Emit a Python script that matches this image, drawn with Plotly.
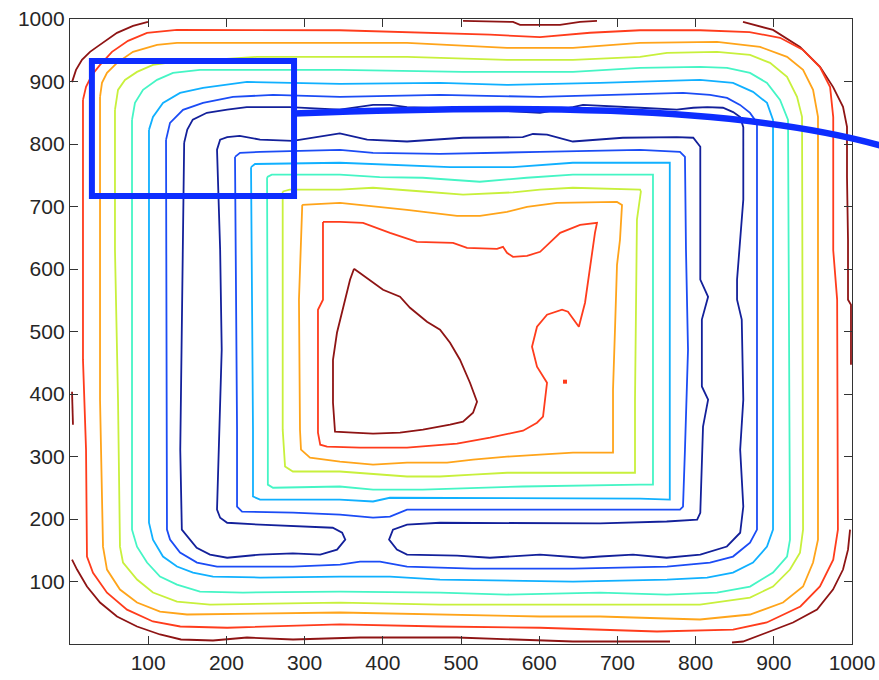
import plotly.graph_objects as go

# Contour level colours (jet-style, low -> high)
LEVEL_COLORS = ["#13209a", "#1b4cf5", "#10b0ff", "#45f5c5",
                "#c8f03c", "#ffa41a", "#ff3c1c", "#8e1414"]

TICKS = [100, 200, 300, 400, 500, 600, 700, 800, 900, 1000]

# ---- level 8 (highest): pieces along the border and the central peak ----
dr_tl_x = [2.6, 7.7, 15.3, 25.6, 34.5, 47.3, 60.1, 80.6, 99.7]
dr_tl_y = [899, 918.6, 934.6, 947.4, 955.4, 966.6, 977.8, 989, 995.4]

dr_top_x = [502.6, 566.5, 575.5, 626.6, 652.2, 673.9]
dr_top_y = [997, 995.4, 990.6, 990.6, 995.4, 997]

dr_tr_x = [860.6, 899, 933.5, 959.1, 975.7, 988.5, 993.6, 993.6, 994.9, 994.9, 998.7, 998.7]
dr_tr_y = [995.4, 982.6, 955.4, 923.4, 891.4, 859.4, 827.4, 747.4, 646.7, 550.8, 542.8, 446.8]

dr_left_x = [2.6, 3.8]
dr_left_y = [403.7, 350.9]

dr_bottom_x = [2.6, 9, 21.7, 38.4, 60.1, 85.7, 115.1, 141.9, 182.9, 226.3, 285.2,
               370.9, 494.9, 566.5, 643.2, 767.3]
dr_bottom_y = [135.1, 119.1, 91.9, 66.3, 44, 28, 15.2, 7.2, 5.6, 10.4, 7.2,
               10.4, 10.4, 7.2, 4, 4]

dr_br_x = [846.6, 860.6, 891.3, 924.6, 955.3, 975.7, 988.5, 994.9, 997.5]
dr_br_y = [2.4, 4, 18.4, 34.4, 55.1, 87.1, 119.1, 151, 183]

dr_core_x = [363.2, 387.5, 400.3, 422, 434.8, 456.5, 473.2, 486, 498.7, 511.5, 520.5,
             515.4, 502.6, 486, 451.4, 422, 387.5, 361.9, 338.9, 336.3, 336.3, 341.4,
             347.8, 354.2, 358.1, 363.2]
dr_core_y = [600.3, 578, 566.8, 555.6, 538, 515.6, 502.8, 482, 454.8, 418, 387.7,
             370.1, 355.7, 350.9, 342.9, 338.1, 336.5, 338.1, 339.7, 386.1, 454.8, 498,
             530, 562, 582.8, 600.3]

# ---- level 7 ----
red_outer_x = [16.6, 20.5, 28.1, 38.4, 53.7, 74.2, 98.5, 136.8, 345, 473, 537, 601, 665,
               729, 806, 869, 908, 937, 959, 972, 976, 976, 981, 982, 976, 959, 934, 891,
               848, 750.6, 678, 601, 473, 345, 201, 141, 106, 72.9, 47.3, 29.4, 21.7,
               20.5, 16.6, 16.6]
red_outer_y = [870.6, 891.4, 910.6, 926.6, 947.4, 965, 977.8, 982.6, 982, 978, 975, 971,
               978, 982, 982, 979, 970, 951, 923, 891, 843, 630, 551, 183, 135, 92, 60,
               34.5, 23, 20, 23, 26, 28, 31.5, 26, 28, 36, 55, 82, 114, 140, 311, 455,
               870.6]

red_inner_x = [323.5, 345.3, 374.7, 409.2, 443.7, 489.8, 507.7, 546, 553.7, 558.8, 566.5,
               584.4, 601.2, 617.8, 626.8, 652.3, 673.9, 671.3, 664.9, 658.6, 650.7,
               636.8, 629.2, 610, 597.2, 590.8, 597.2, 610, 604.9, 597.2, 579.3, 537.1,
               494.9, 431, 370.9, 328.7, 320, 317.1, 317.1, 323.5, 323.5]
red_inner_y = [675.4, 675.4, 673.8, 657.8, 643.5, 641.9, 633.9, 632.3, 635.5, 625.9, 619.5,
               621.1, 627.5, 646.7, 657.8, 670.6, 673.8, 657.8, 598.7, 546, 507.6,
               531.6, 534.8, 526.8, 507.6, 475.6, 443.6, 418, 363.7, 354.1, 341.3, 330.1,
               320.5, 314.1, 314.1, 315.7, 318.9, 338.1, 534.8, 550.8, 675.4]

red_spot_x = [633]
red_spot_y = [419.7]

# ---- level 6 ----
orange_outer_x = [38.4, 40.9, 47.3, 60.1, 80.6, 111.3, 136.8, 345.3, 431, 558.8, 643.2,
                  728.9, 827.4, 882.4, 916.9, 937.4, 950.2, 956.5, 956.5, 950.2, 937.4,
                  911.8, 869.6, 805.6, 677.8, 601, 473.2, 345.3, 149.6, 115.1, 85.7, 63.9,
                  47.3, 42.2, 38.4, 38.4]
orange_outer_y = [875.4, 897.8, 913.8, 929.8, 947.4, 958.6, 961.8, 961.8, 961.8, 953.8,
                  953.8, 961.8, 963.4, 955.4, 939.4, 918.6, 886.6, 843.4, 167, 130.3, 91.9,
                  66.3, 47.2, 39.2, 44, 44, 47.2, 50.4, 47.2, 51.9, 66.3, 87.1, 119.1,
                  155.8, 390.9, 875.4]

orange_inner_x = [297, 345.3, 431, 464.2, 494.9, 524.3, 558.8, 584.4, 622.8, 699.5, 705.9,
                  703.3, 699.5, 696.9, 694.4, 694.4, 643.2, 601, 558.8, 515.4, 482.2, 431,
                  387.5, 345.3, 306.9, 295.4, 294.1, 292.8, 297]
orange_inner_y = [702.6, 705.8, 694.6, 689.8, 685, 685, 691.4, 699.4, 705.8, 707.4, 702.6,
                  646.7, 606.7, 502.8, 406.8, 306.1, 306.1, 302.9, 299.7, 294.9, 290.1,
                  290.1, 286.9, 291.7, 298.1, 310.9, 342.9, 550.8, 702.6]

# ---- level 5 ----
yellow_outer_x = [57.5, 61.4, 70.3, 85.7, 106.1, 124, 239.1, 345.3, 431, 558.8, 643.2,
                  728.9, 763.4, 827.4, 869.6, 895.2, 916.9, 929.7, 936.1, 937.4, 933.5,
                  920.7, 899, 869.6, 805.6, 677.8, 473.2, 345.3, 179, 136.8, 106.1, 85.7,
                  67.8, 63.9, 61.4, 57.5, 57.5]
yellow_outer_y = [854.6, 886.6, 902.6, 915.4, 926.6, 929.8, 939.4, 939.4, 939.4, 934.6,
                  934.6, 939.4, 945.8, 947.4, 942.6, 929.8, 907.4, 875.4, 843.4, 183,
                  146.2, 119.1, 91.9, 74.3, 63.1, 63.1, 63.1, 66.3, 63.1, 67.9, 82.3,
                  103.1, 130.3, 155.8, 390.9, 630.7, 854.6]

yellow_inner_x = [272, 281, 345, 387.5, 451, 502.6, 566.5, 601, 643, 707, 729, 730, 725,
                  722.5, 722.5, 716, 559, 515, 473, 431, 396, 345, 285, 275, 272, 272]
yellow_inner_y = [724, 727, 727, 730, 724, 719, 722.6, 727, 730, 727, 727, 724, 679,
                  391, 274, 274, 274, 271, 268, 268, 271, 276, 276, 284, 343, 724]

# ---- level 4 ----
aqua_outer_x = [79.3, 83.1, 93.4, 111.3, 131.7, 166.2, 345.3, 502.6, 643.2, 728.9, 805.6,
                840.2, 869.6, 891.3, 908, 918.2, 920.7, 916.9, 899, 869.6, 827.4, 763.4,
                677.8, 558.8, 473.2, 345.3, 221.2, 166.2, 136.8, 115.1, 98.5, 85.7, 79.3,
                79.3]
aqua_outer_y = [838.6, 865.8, 886.6, 902.6, 913.8, 918.6, 918.6, 915.4, 915.4, 921.8, 923.4,
                921.8, 913.8, 897.8, 870.6, 838.6, 167, 139.9, 114.3, 91.9, 82.3, 79.1,
                82.3, 79.1, 82.3, 83.9, 82.3, 83.9, 95.1, 107.9, 130.3, 155.8, 183, 838.6]

aqua_inner_x = [252, 258, 345, 396, 451, 524, 584, 643, 729, 745.5, 745.5, 729, 579, 515,
                451, 387.5, 345, 259.6, 253, 253, 252]
aqua_inner_y = [747, 751, 751, 747, 746, 739.6, 746, 751, 751, 751, 255, 255, 252, 250,
                247, 247, 252, 250, 255, 343, 747]

# ---- level 3 ----
cyan_outer_x = [101, 106.1, 118.9, 140.7, 170.1, 226.3, 345.3, 473.2, 558.8, 677.8, 805.6,
                847.8, 873.4, 891.3, 899, 899, 891.3, 873.4, 847.8, 814.6, 763.4, 643.2,
                473.2, 409.2, 345.3, 243, 182.9, 157.3, 136.8, 118.9, 106.1, 101, 101]
cyan_outer_y = [822.6, 843.4, 865.8, 881.8, 889.8, 899.4, 896.2, 897.8, 894.6, 897.8, 902.6,
                897.8, 883.4, 865.8, 838.6, 183, 155.8, 130.3, 114.3, 106.3, 103.1, 99.9,
                103.1, 107.9, 107.9, 106.3, 107.9, 114.3, 123.9, 139.9, 167, 194.2, 822.6]

cyan_inner_x = [231.5, 236.6, 345, 486, 566.5, 643, 729, 767, 767, 729, 409, 387.5, 345,
                243, 234, 234, 231.5]
cyan_inner_y = [763, 768, 770, 763, 763, 770, 770, 770, 231, 232.6, 234, 228, 231, 231,
                236, 343, 763]

# ---- level 2 ----
blue_outer_x = [122.8, 127.9, 144.5, 170.1, 208.4, 259.6, 345.3, 473.2, 601, 783.9, 818.4,
                840.2, 856.8, 869.6, 878.5, 878.5, 869.6, 847.8, 818.4, 763.4, 643.2,
                515.4, 431, 396.4, 370.9, 345.3, 285.2, 188, 162.4, 140.7, 127.9, 124,
                122.8]
blue_outer_y = [806.6, 833.8, 854.6, 865.8, 875.4, 878.6, 875.4, 878.6, 875.4, 881.8, 878.6,
                873.8, 862.6, 849.8, 833.8, 183, 162.2, 139.9, 130.3, 123.9, 120.7, 120.7,
                123.9, 131.9, 131.9, 127.1, 123.9, 123.9, 130.3, 146.2, 167, 183, 806.6]

blue_inner_x = [211, 217.4, 243, 345.3, 387.5, 473.2, 601, 728.9, 780, 786.4, 787.7, 790.3,
                786.4, 783.9, 780, 728.9, 431, 409.2, 387.5, 345.3, 285.2, 220, 213.6,
                213.6, 212.3, 211]
blue_inner_y = [779.4, 785.8, 787.4, 790.6, 785.8, 784.2, 787.4, 790.6, 787.4, 779.4, 630.7,
                470.8, 310.9, 219.8, 215, 215, 215, 203.8, 202.2, 207, 210.2, 211.8, 219.8,
                342.9, 550.8, 779.4]

# ---- level 1 (lowest): one loop round the valley, pinched at the saddle ----
navy_x = [146, 150, 157, 175, 201, 226, 265, 281, 345, 371, 387.5, 409, 431, 524, 601,
          643, 656, 729, 776, 797, 815, 835, 848, 857, 861, 861, 853, 853, 859, 861, 857,
          861, 857, 840, 806, 763, 720, 678, 656, 601, 537, 495, 431, 418, 408, 413, 431,
          473, 559, 643, 678, 763, 802, 806, 809.5, 816, 808, 808, 816, 806, 806, 797,
          776, 707, 643, 610, 592, 579, 502.6, 431, 380, 345, 285, 243, 217, 201, 192,
          188, 192, 194, 190.5, 188, 192, 201, 243, 285, 311, 336, 348, 352, 341.5, 320,
          285, 243, 201, 179, 162, 150, 143, 141, 143, 146]
navy_y = [802, 823, 839, 850, 855, 859, 859, 859, 855, 859, 862.6, 862.6, 859, 855, 850,
          859, 862.6, 858, 855, 858, 859, 858, 851, 843, 827, 711, 583, 551, 519, 391, 311,
          220, 178, 156, 143, 138, 143, 140, 138, 143, 138, 141.5, 143, 151, 167, 183, 191,
          194, 194, 194, 193, 196, 199, 210, 348, 391, 412, 519, 555.5, 583, 795.5, 810,
          811, 810, 804, 815, 816, 811, 810, 804, 807, 817, 805, 807, 813, 811, 807,
          791, 631, 471, 311, 215, 202, 194, 191, 189, 188, 186, 178, 167, 151, 143,
          145, 143, 138, 143, 154, 172, 183, 311, 551, 802]

CONTOURS = [
    (7, dr_tl_x, dr_tl_y), (7, dr_top_x, dr_top_y), (7, dr_tr_x, dr_tr_y),
    (7, dr_left_x, dr_left_y), (7, dr_bottom_x, dr_bottom_y), (7, dr_br_x, dr_br_y),
    (7, dr_core_x, dr_core_y),
    (6, red_outer_x, red_outer_y), (6, red_inner_x, red_inner_y),
    (5, orange_outer_x, orange_outer_y), (5, orange_inner_x, orange_inner_y),
    (4, yellow_outer_x, yellow_outer_y), (4, yellow_inner_x, yellow_inner_y),
    (3, aqua_outer_x, aqua_outer_y), (3, aqua_inner_x, aqua_inner_y),
    (2, cyan_outer_x, cyan_outer_y), (2, cyan_inner_x, cyan_inner_y),
    (1, blue_outer_x, blue_outer_y), (1, blue_inner_x, blue_inner_y),
    (0, navy_x, navy_y),
]

fig = go.Figure()
for level, xs, ys in CONTOURS:
    fig.add_trace(go.Scatter(
        x=xs, y=ys, mode="lines",
        line=dict(color=LEVEL_COLORS[level], width=1.8),
        hoverinfo="skip", showlegend=False,
    ))

fig.add_trace(go.Scatter(
    x=red_spot_x, y=red_spot_y, mode="markers",
    marker=dict(color=LEVEL_COLORS[6], size=4, symbol="square"),
    hoverinfo="skip", showlegend=False,
))

axis_common = dict(
    range=[0, 1000], tickvals=TICKS, ticktext=[str(t) for t in TICKS],
    ticks="inside", ticklen=8, tickwidth=1.2, tickcolor="#333333",
    showline=True, linecolor="#333333", linewidth=1.4, mirror="ticks",
    showgrid=False, zeroline=False, automargin=False,
    tickfont=dict(family="Liberation Sans, Arial, sans-serif", size=21, color="#262626"),
)

HIGHLIGHT = "#0d2dff"

fig.update_layout(
    width=879, height=680,
    margin=dict(l=70, r=27, t=19, b=36),
    paper_bgcolor="white", plot_bgcolor="white",
    xaxis=axis_common, yaxis=axis_common,
    shapes=[
        # zoom box over the upper-left corner
        dict(type="rect", xref="x", yref="y", x0=28, x1=286.5, y0=717, y1=933,
             line=dict(color=HIGHLIGHT, width=6), layer="above"),
        # leader line running off to the right
        dict(type="path", xref="paper", yref="paper",
             path="M 0.2864,0.8488 C 0.55,0.862 0.85,0.865 1.045,0.7945",
             line=dict(color=HIGHLIGHT, width=6.5), layer="above"),
    ],
)

fig.write_html("out.html")
